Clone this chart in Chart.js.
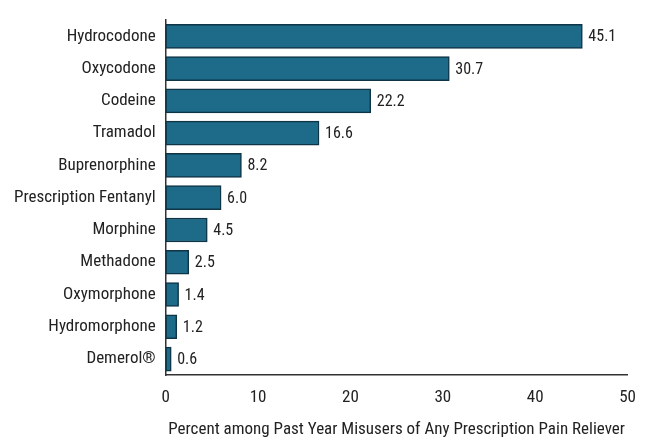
<!DOCTYPE html>
<html><head><meta charset="utf-8">
<script src="https://cdn.jsdelivr.net/npm/chart.js@4"></script>
<style>html,body{margin:0;padding:0;background:#fff}#w{width:648px;height:442px}</style>
</head><body><div id="w"><canvas id="c"></canvas></div>
<script>
const categories = ["Hydrocodone","Oxycodone","Codeine","Tramadol","Buprenorphine","Prescription Fentanyl","Morphine","Methadone","Oxymorphone","Hydromorphone","Demerol®"];
const values = [45.1,30.7,22.2,16.6,8.2,6.0,4.5,2.5,1.4,1.2,0.6];
const xTicks = [0,10,20,30,40,50];
const xTitle = "Percent among Past Year Misusers of Any Prescription Pain Reliever";
const FONT = "'Liberation Sans Narrow','Roboto Condensed','Liberation Sans',sans-serif";
const labelPlugin = {id:'lbl', afterDatasetsDraw(chart){
  const ctx=chart.ctx, meta=chart.getDatasetMeta(0);
  ctx.save(); ctx.font="16px "+FONT; ctx.fillStyle="#222"; ctx.textBaseline="middle";
  meta.data.forEach((b,i)=>ctx.fillText(values[i].toFixed(1), b.x+6, b.y+1));
  ctx.restore();
}};
new Chart(document.getElementById('c'),{
  type:'bar',
  data:{labels:categories,datasets:[{data:values,backgroundColor:'#1d6a89',borderColor:'#0f3445',borderWidth:1.5,borderSkipped:false,barThickness:24}]},
  options:{indexAxis:'y',responsive:true,maintainAspectRatio:false,animation:false,
    layout:{padding:{top:2,right:14,left:4,bottom:2}},
    plugins:{legend:{display:false},tooltip:{enabled:false}},
    scales:{
      x:{min:0,max:50,afterBuildTicks(a){a.ticks=xTicks.map(v=>({value:v}));},
        grid:{display:false,drawTicks:false},border:{color:'#333',width:1.5},
        ticks:{color:'#222',font:{family:FONT,size:17},padding:12},
        title:{display:true,text:xTitle,color:'#222',font:{family:FONT,size:17},padding:{top:0,bottom:0}}},
      y:{grid:{display:false,drawTicks:false},border:{color:'#333',width:1.5},
        ticks:{color:'#222',font:{family:FONT,size:17},padding:10}}
    }},
  plugins:[labelPlugin]
});
</script></body></html>
